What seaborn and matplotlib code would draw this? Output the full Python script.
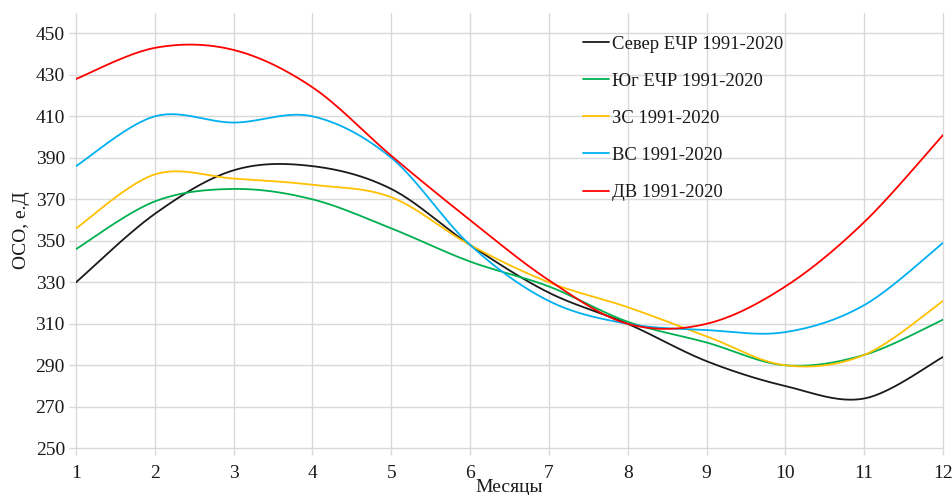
import numpy as np
import pandas as pd
import matplotlib
matplotlib.use("Agg")
import matplotlib.pyplot as plt
import seaborn as sns

months = [1, 2, 3, 4, 5, 6, 7, 8, 9, 10, 11, 12]
sever_ecr = [330, 363, 384, 386, 375, 348, 325, 310, 292, 280, 274, 294]
yug_ecr = [346, 369, 375, 370, 356, 340, 328, 311, 301, 290, 295, 312]
zs = [356, 382, 380, 377, 371, 348, 330, 318, 304, 290, 295, 321]
vs = [386, 410, 407, 410, 390, 348, 321, 310, 307, 306, 319, 349]
dv = [428, 443, 442, 424, 391, 360, 331, 310, 310, 328, 359, 401]

labels = ["Север ЕЧР 1991-2020", "Юг ЕЧР 1991-2020", "ЗС 1991-2020",
          "ВС 1991-2020", "ДВ 1991-2020"]
series = [sever_ecr, yug_ecr, zs, vs, dv]
colors = ["#1a1a1a", "#00b050", "#ffc000", "#00b0f0", "#ff0000"]


def excel_smooth(x, y, n=40):
    x = np.asarray(x, float)
    y = np.asarray(y, float)
    px = np.concatenate([[x[0]], x, [x[-1]]])
    py = np.concatenate([[y[0]], y, [y[-1]]])
    xs, ys = [], []
    t = np.linspace(0, 1, n)
    for i in range(1, len(px) - 2):
        p0 = np.array([px[i], py[i]])
        p3 = np.array([px[i + 1], py[i + 1]])
        p1 = p0 + (np.array([px[i + 1], py[i + 1]]) - np.array([px[i - 1], py[i - 1]])) / 6
        p2 = p3 - (np.array([px[i + 2], py[i + 2]]) - np.array([px[i], py[i]])) / 6
        b = ((1 - t) ** 3)[:, None] * p0 + (3 * (1 - t) ** 2 * t)[:, None] * p1 \
            + (3 * (1 - t) * t ** 2)[:, None] * p2 + (t ** 3)[:, None] * p3
        if i > 1:
            b = b[1:]
        xs.extend(b[:, 0])
        ys.extend(b[:, 1])
    return np.array(xs), np.array(ys)


frames = []
for lab, vals in zip(labels, series):
    sx, sy = excel_smooth(months, vals)
    frames.append(pd.DataFrame({"x": sx, "y": sy, "series": lab}))
df = pd.concat(frames, ignore_index=True)

sns.set_theme(style="whitegrid")
plt.rcParams["font.family"] = ["Liberation Serif", "DejaVu Serif"]

fig = plt.figure(figsize=(9.52, 4.95), dpi=100)
ax = fig.add_axes([76 / 952, 1 - 448.3 / 495, (943 - 76) / 952, (448.3 - 12.6) / 495])

sns.lineplot(data=df, x="x", y="y", hue="series", palette=colors,
             hue_order=labels, sort=False, estimator=None, units="series",
             linewidth=1.3, ax=ax, legend=True)

ax.set_xlim(1, 12)
ax.set_ylim(250, 460)
ax.set_xticks(months)
ax.set_yticks(np.arange(250, 451, 20))
ax.grid(True, color="#d9d9d9", linewidth=1.0)
for gl in ax.get_xgridlines() + ax.get_ygridlines():
    gl.set_clip_on(False)
for s in ax.spines.values():
    s.set_visible(False)
ax.tick_params(axis="both", which="both", length=5, width=1.0, color="#d9d9d9",
               labelsize=14, labelcolor="#1a1a1a", direction="out",
               bottom=True, left=True)
ax.tick_params(axis="x", pad=7)
ax.tick_params(axis="y", pad=3)
ax.set_xlabel("Месяцы", fontsize=14, color="#1a1a1a", labelpad=-2)
ax.set_ylabel("ОСО, е.Д", fontsize=14, color="#1a1a1a", labelpad=4)

handles, _ = ax.get_legend_handles_labels()
ax.legend(handles, labels, loc="upper left", bbox_to_anchor=(583 / 952, 1 - 35.5 / 495),
          bbox_transform=fig.transFigure, frameon=False, fontsize=13.4,
          handlelength=1.4, handletextpad=0.16, labelspacing=1.08,
          borderpad=0, borderaxespad=0, labelcolor="#1a1a1a")
for line in ax.get_legend().get_lines():
    line.set_linewidth(1.3)

fig.savefig("out.png", dpi=100)
